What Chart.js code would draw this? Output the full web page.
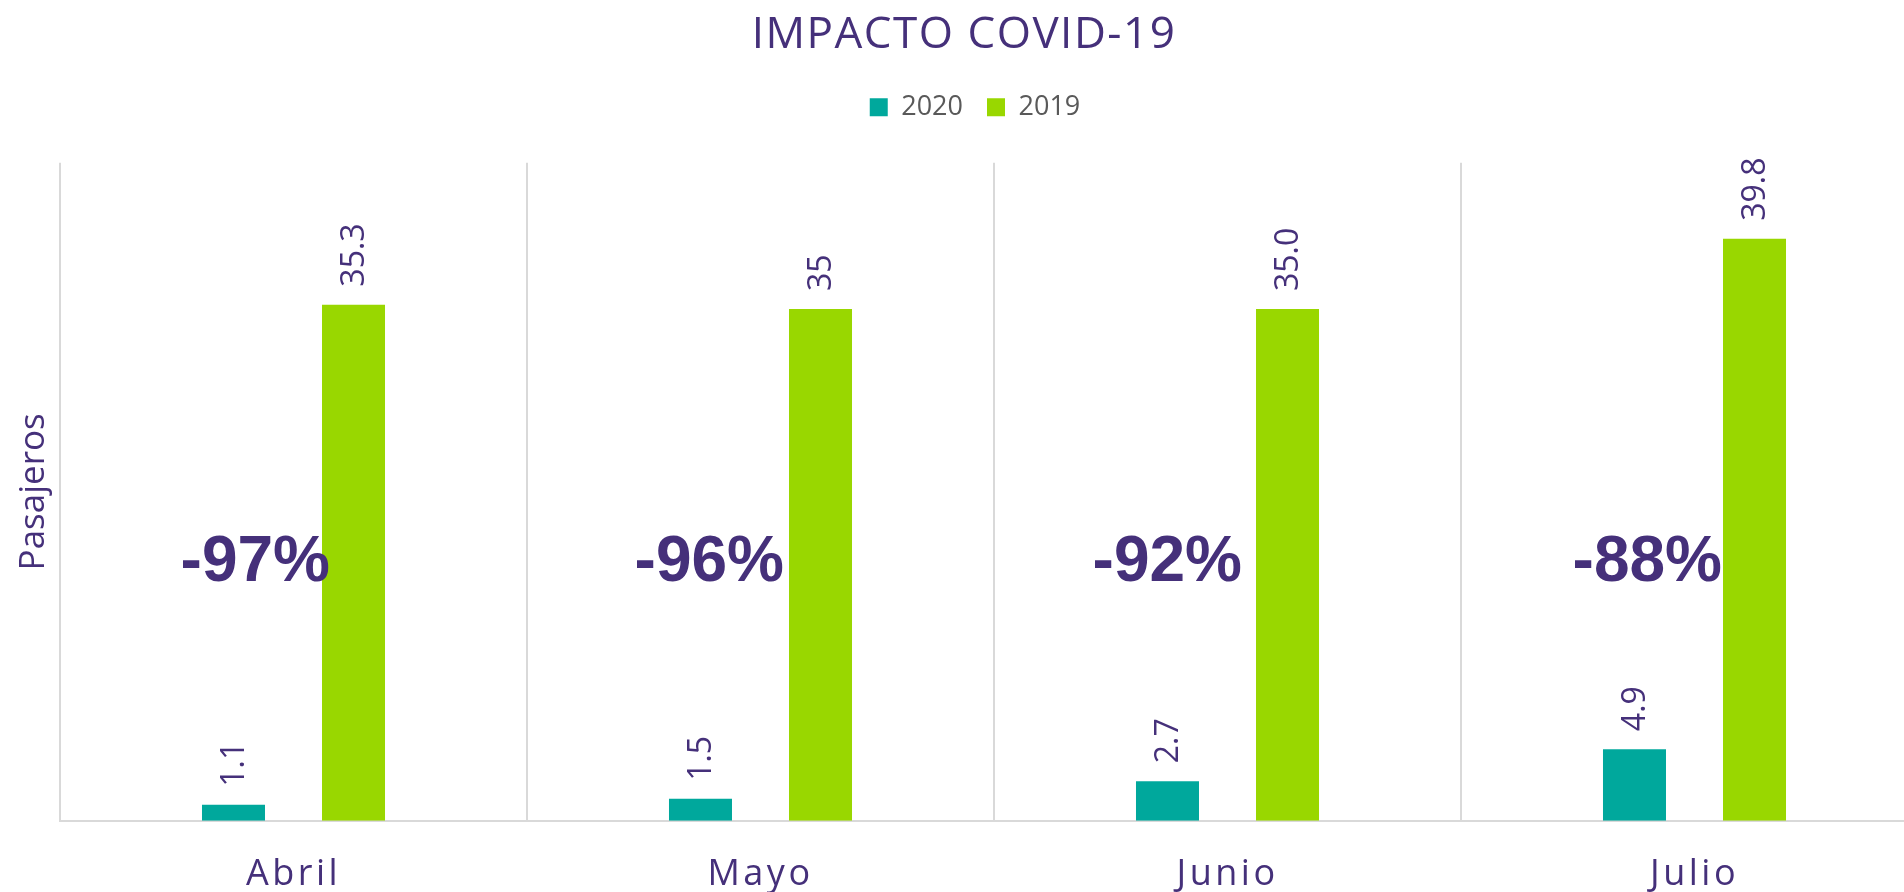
<!DOCTYPE html>
<html><head><meta charset="utf-8">
<script src="https://cdn.jsdelivr.net/npm/chart.js@4/dist/chart.umd.min.js"></script>
<style>html,body{margin:0;padding:0;background:#fff;overflow:hidden;width:1904px;height:892px}canvas{display:block}</style>
</head><body>
<canvas id="c" width="1936" height="928" style="width:1936px;height:928px"></canvas>
<script>
const months = ['Abril', 'Mayo', 'Junio', 'Julio'];
const pax2020 = [1.1, 1.5, 2.7, 4.9];
const pax2019 = [35.3, 35, 35.0, 39.8];
const valueLabels2020 = ['1.1', '1.5', '2.7', '4.9'];
const valueLabels2019 = ['35.3', '35', '35.0', '39.8'];
const changeLabels = ['-97%', '-96%', '-92%', '-88%'];

const PURPLE = '#45307a';
const TEAL = '#00a89c';
const GREEN = '#99d700';
const FONT = "'Open Sans', 'DejaVu Sans', sans-serif";

function wrapSpacing(obj, fn, sp) {
  if (!obj || obj['__w_' + fn]) return;
  const orig = obj[fn];
  obj[fn] = function (...a) {
    const ctx = this.ctx;
    const prev = ctx.letterSpacing;
    ctx.letterSpacing = sp;
    const r = orig.apply(this, a);
    ctx.letterSpacing = prev || '0px';
    return r;
  };
  obj['__w_' + fn] = true;
}

const layoutTweaks = {
  id: 'layoutTweaks',
  beforeInit(chart) {
    const lg = chart.legend;
    if (lg && !lg.__wf) {
      const f = lg.fit;
      lg.fit = function () { f.call(this); this.height += 32; };
      lg.__wf = true;
    }
  },
  afterLayout(chart) {
    if (chart.legend) { chart.legend.left += 22; }
  },
  beforeDraw(chart) {
    wrapSpacing(chart.titleBlock, 'draw', '1.5px');
    wrapSpacing(chart.scales.x, 'drawLabels', '3.5px');
  }
};

const valueLabelsPlugin = {
  id: 'valueLabels',
  afterDatasetsDraw(chart, args, opts) {
    const ctx = chart.ctx;
    const sets = [valueLabels2020, valueLabels2019];
    ctx.save();
    ctx.letterSpacing = '0px';
    ctx.fillStyle = PURPLE;
    ctx.font = "32px " + FONT;
    ctx.textAlign = 'left';
    ctx.textBaseline = 'middle';
    sets.forEach((labs, di) => {
      chart.getDatasetMeta(di).data.forEach((bar, i) => {
        ctx.save();
        ctx.translate(bar.x + 1, bar.y - 18);
        ctx.rotate(-Math.PI / 2);
        ctx.fillText(labs[i], 0, 0);
        ctx.restore();
      });
    });
    ctx.font = "bold 64px 'Liberation Sans', Arial, sans-serif";
    ctx.textAlign = 'right';
    const yPix = chart.scales.y.getPixelForValue(17.6);
    const nudge = opts.nudge || [];
    chart.getDatasetMeta(1).data.forEach((bar, i) => {
      const left = bar.x - bar.width / 2;
      ctx.fillText(changeLabels[i], left - 3 + (nudge[i] || 0), yPix);
    });
    ctx.restore();
  }
};

new Chart(document.getElementById('c'), {
  type: 'bar',
  data: {
    labels: months,
    datasets: [
      { label: '2020', data: pax2020, backgroundColor: TEAL, categoryPercentage: 0.514, barPercentage: 0.525 },
      { label: '2019', data: pax2019, backgroundColor: GREEN, categoryPercentage: 0.514, barPercentage: 0.525 }
    ]
  },
  options: {
    responsive: false,
    animation: false,
    devicePixelRatio: 1,
    layout: { padding: { left: 0, right: 8, top: 0, bottom: 0 } },
    plugins: {
      title: {
        display: true,
        text: 'IMPACTO COVID-19',
        color: PURPLE,
        font: { family: FONT, size: 44, weight: 'normal' },
        padding: { top: 9, bottom: 8 }
      },
      legend: {
        display: true,
        position: 'top',
        labels: {
          color: '#595959',
          font: { family: FONT, size: 27 },
          boxWidth: 18,
          boxHeight: 18,
          padding: 24
        }
      },
      tooltip: { enabled: false },
      valueLabels: { nudge: [11, -2, -11, 2] }
    },
    scales: {
      x: {
        grid: { display: true, color: '#d9d9d9', lineWidth: 2, drawTicks: false, offset: true },
        border: { display: true, color: '#d9d9d9', width: 2 },
        ticks: { color: PURPLE, font: { family: FONT, size: 36 }, padding: 32 }
      },
      y: {
        min: 0,
        max: 45,
        grid: { display: false, drawTicks: false },
        border: { display: false },
        ticks: { display: false },
        title: {
          display: true,
          text: 'Pasajeros',
          color: PURPLE,
          font: { family: FONT, size: 35 },
          padding: { top: 13, bottom: 5 }
        }
      }
    }
  },
  plugins: [layoutTweaks, valueLabelsPlugin]
});
</script>
</body></html>
